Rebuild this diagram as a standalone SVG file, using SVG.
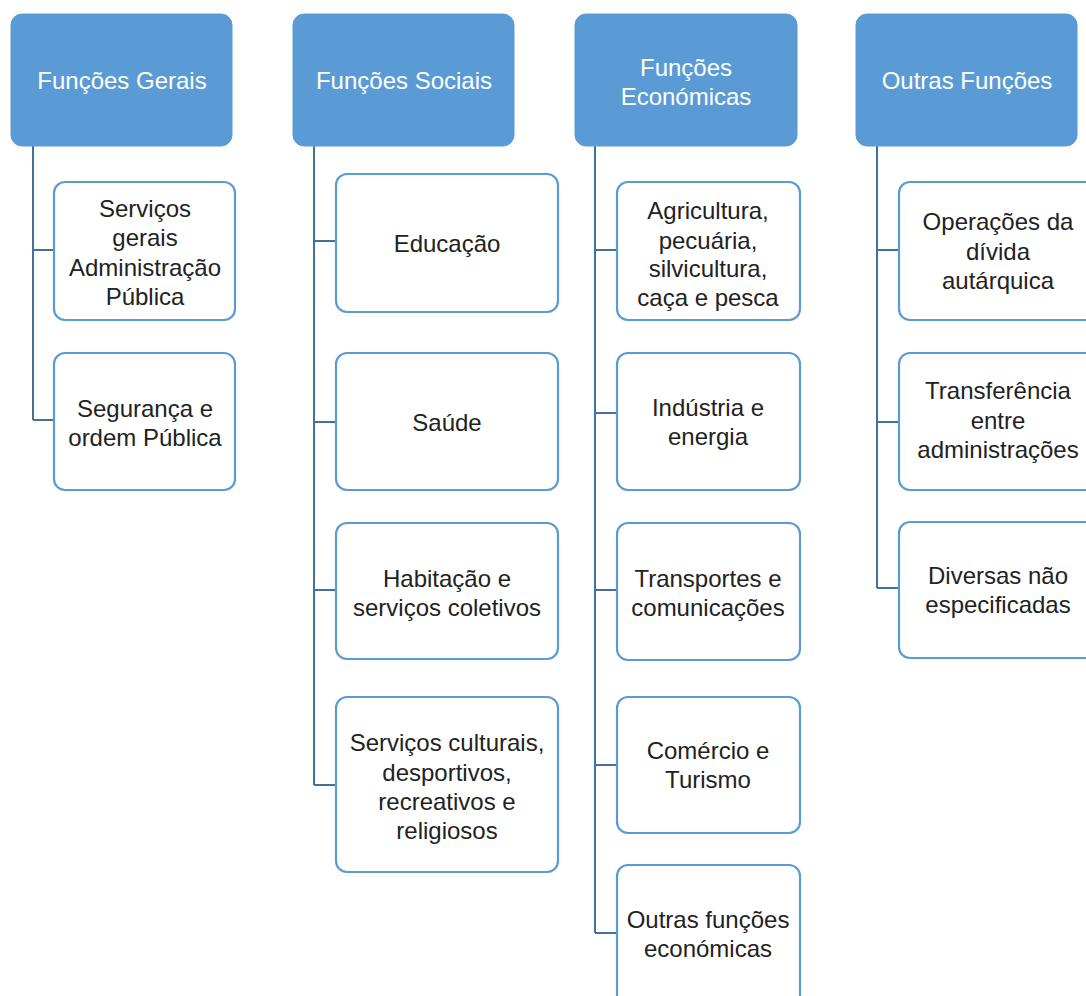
<svg xmlns="http://www.w3.org/2000/svg" width="1086" height="996" viewBox="0 0 1086 996">
<defs>
<style>
.hdr{fill:#5B9BD5;stroke:#5B9BD5;stroke-width:1}
.box{fill:#FFFFFF;stroke:#5B9BD5;stroke-width:2.2}
.ht{font-family:"Liberation Sans",Arial,sans-serif;font-size:24px;fill:#FFFFFF;text-anchor:middle}
.bt{font-family:"Liberation Sans",Arial,sans-serif;font-size:24px;fill:#222222;text-anchor:middle}
.con{fill:none;stroke:#41719C;stroke-width:2}
</style>
</defs>
<rect width="1086" height="996" fill="#FFFFFF"/>
<g id="connectors">
<path class="con" d="M33,146 V420 M33,250 H54 M33,420 H54"/>
<path class="con" d="M314,146 V785 M314,241 H336 M314,422 H336 M314,590 H336 M314,785 H336"/>
<path class="con" d="M595,146 V933 M595,250 H617 M595,413 H617 M595,590 H617 M595,765 H617 M595,933 H617"/>
<path class="con" d="M877,146 V588 M877,250 H899 M877,422 H899 M877,588 H899"/>
</g>
<g id="h1"><rect class="hdr" x="11" y="14" width="221" height="132" rx="11"/><text class="ht" x="122" y="88.5">Funções Gerais</text></g>
<g id="h2"><rect class="hdr" x="293" y="14" width="221" height="132" rx="11"/><text class="ht" x="404" y="88.5">Funções Sociais</text></g>
<g id="h3"><rect class="hdr" x="575" y="14" width="222" height="132" rx="11"/><text class="ht" x="686" y="75.5">Funções</text><text class="ht" x="686" y="104.5">Económicas</text></g>
<g id="h4"><rect class="hdr" x="856" y="14" width="221" height="132" rx="11"/><text class="ht" x="967" y="88.5">Outras Funções</text></g>

<g id="c1a"><rect class="box" x="54" y="182" width="181" height="138" rx="11"/><text class="bt" x="145" y="216.5">Serviços</text><text class="bt" x="145" y="245.5">gerais</text><text class="bt" x="145" y="275.5">Administração</text><text class="bt" x="145" y="304.5">Pública</text></g>
<g id="c1b"><rect class="box" x="54" y="353" width="181" height="137" rx="11"/><text class="bt" x="145" y="416.5">Segurança e</text><text class="bt" x="145" y="445.5">ordem Pública</text></g>

<g id="c2a"><rect class="box" x="336" y="174" width="222" height="138" rx="11"/><text class="bt" x="447" y="251.5">Educação</text></g>
<g id="c2b"><rect class="box" x="336" y="353" width="222" height="137" rx="11"/><text class="bt" x="447" y="430.5">Saúde</text></g>
<g id="c2c"><rect class="box" x="336" y="523" width="222" height="136" rx="11"/><text class="bt" x="447" y="586.5">Habitação e</text><text class="bt" x="447" y="615.5">serviços coletivos</text></g>
<g id="c2d"><rect class="box" x="336" y="697" width="222" height="175" rx="11"/><text class="bt" x="447" y="750.5">Serviços culturais,</text><text class="bt" x="447" y="780.5">desportivos,</text><text class="bt" x="447" y="809.5">recreativos e</text><text class="bt" x="447" y="838.5">religiosos</text></g>

<g id="c3a"><rect class="box" x="617" y="182" width="183" height="138" rx="11"/><text class="bt" x="708" y="218.5">Agricultura,</text><text class="bt" x="708" y="248.5">pecuária,</text><text class="bt" x="708" y="276.5">silvicultura,</text><text class="bt" x="708" y="305.5">caça e pesca</text></g>
<g id="c3b"><rect class="box" x="617" y="353" width="183" height="137" rx="11"/><text class="bt" x="708" y="415.5">Indústria e</text><text class="bt" x="708" y="444.5">energia</text></g>
<g id="c3c"><rect class="box" x="617" y="523" width="183" height="137" rx="11"/><text class="bt" x="708" y="586.5">Transportes e</text><text class="bt" x="708" y="615.5">comunicações</text></g>
<g id="c3d"><rect class="box" x="617" y="697" width="183" height="136" rx="11"/><text class="bt" x="708" y="758.5">Comércio e</text><text class="bt" x="708" y="787.5">Turismo</text></g>
<g id="c3e"><rect class="box" x="617" y="865" width="183" height="145" rx="11"/><text class="bt" x="708" y="927.5">Outras funções</text><text class="bt" x="708" y="956.5">económicas</text></g>

<g id="c4a"><rect class="box" x="899" y="182" width="199" height="138" rx="11"/><text class="bt" x="998" y="229.5">Operações da</text><text class="bt" x="998" y="259.5">dívida</text><text class="bt" x="998" y="288.5">autárquica</text></g>
<g id="c4b"><rect class="box" x="899" y="353" width="199" height="137" rx="11"/><text class="bt" x="998" y="398.5">Transferência</text><text class="bt" x="998" y="428.5">entre</text><text class="bt" x="998" y="457.5">administrações</text></g>
<g id="c4c"><rect class="box" x="899" y="522" width="199" height="136" rx="11"/><text class="bt" x="998" y="583.5">Diversas não</text><text class="bt" x="998" y="612.5">especificadas</text></g>
</svg>
